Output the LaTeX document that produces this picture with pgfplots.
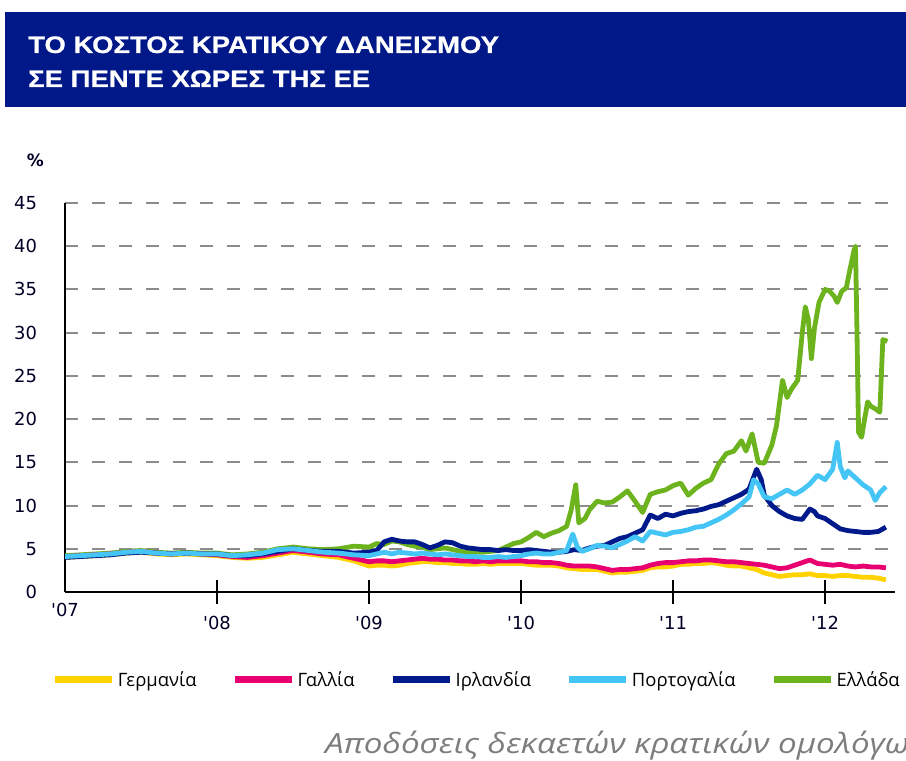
\documentclass[border=0pt]{standalone}
\usepackage{fontspec}
\usepackage{pgfplots}
\pgfplotsset{compat=1.18}
\setmainfont{DejaVu Sans}
\newfontfamily\titlefont{Liberation Sans}[FakeStretch=1.15, BoldFeatures={FakeBold=0.6}]
\newfontfamily\legfont{Open Sans}
\newfontfamily\notefont{Open Sans}[FakeStretch=1.19]
\newfontfamily\tickfont{DejaVu Sans}
\definecolor{banner}{RGB}{0,24,136}
\definecolor{cDE}{RGB}{255,210,0}
\definecolor{cFR}{RGB}{232,0,112}
\definecolor{cIE}{RGB}{0,26,140}
\definecolor{cPT}{RGB}{69,197,245}
\definecolor{cGR}{RGB}{109,179,30}
\definecolor{gridgray}{RGB}{140,140,140}
\definecolor{notegray}{RGB}{125,125,125}

\begin{document}
\begin{tikzpicture}
\useasboundingbox (0bp,0bp) rectangle (906bp,761bp);
\fill[banner] (5bp,654bp) rectangle (906bp,749bp);
\node[anchor=base west,inner sep=0pt,text=white,font=\titlefont\bfseries\fontsize{24}{28}\selectfont] at (28bp,708bp) {ΤΟ ΚΟΣΤΟΣ ΚΡΑΤΙΚΟΥ ΔΑΝΕΙΣΜΟΥ};
\node[anchor=base west,inner sep=0pt,text=white,font=\titlefont\bfseries\fontsize{24}{28}\selectfont] at (28bp,674bp) {ΣΕ ΠΕΝΤΕ ΧΩΡΕΣ ΤΗΣ ΕΕ};
\node[anchor=east,inner sep=0pt,font=\tickfont\bfseries\fontsize{17}{20}\selectfont,text=black!85!blue] at (44bp,601bp) {\%};
\node[anchor=base west,inner sep=0pt,text=notegray,font=\notefont\itshape\fontsize{28}{32}\selectfont] at (325bp,8bp) {Αποδόσεις δεκαετών κρατικών ομολόγων};

\begin{axis}[
  at={(65bp,169bp)}, anchor=south west,
  scale only axis, width=830bp, height=389bp,
  xmin=7, xmax=12.46, ymin=0, ymax=45,
  axis x line=bottom, axis y line=left,
  axis line style={-, line width=2bp, black},
  ytick={0,5,...,45},
  ymajorgrids,
  grid style={gridgray, line width=2bp, dash pattern=on 13bp off 14bp},
  ytick style={draw=none},
  xtick={8,9,10,11,12},
  xticklabels={'08,'09,'10,'11,'12},
  extra x ticks={7},
  extra x tick labels={'07},
  extra x tick style={major tick length=0pt, grid=none},
  xtick style={black, line width=2bp},
  tick align=center,
  major tick length=25bp,
  /pgf/number format/assume math mode=true,
  tick label style={font=\tickfont\fontsize{18}{20}\selectfont, text=black!85!blue},
  yticklabel style={xshift=-12bp},
  xticklabel style={yshift=-8bp},
  legend style={at={(0.496,-0.226)}, anchor=center, draw=none, fill=none,
    legend columns=-1, font=\legfont\fontsize{18.5}{22}\selectfont,
    /tikz/every even column/.append style={column sep=33bp}},
  legend image code/.code={\draw[#1, line width=7bp] (0bp,0bp) -- (57bp,0bp);},
  every axis plot/.append style={line width=4.8bp, line join=round},
]
\addlegendimage{cDE}
\addlegendimage{cFR}
\addlegendimage{cIE}
\addlegendimage{cPT}
\addlegendimage{cGR}
\legend{Γερμανία,Γαλλία,Ιρλανδία,Πορτογαλία,Ελλάδα}

% Greece
\addplot[cGR, forget plot] table {
7.0 4.2
7.1 4.3
7.2 4.4
7.3 4.5
7.4 4.7
7.5 4.8
7.6 4.6
7.7 4.5
7.8 4.6
7.9 4.5
8.0 4.5
8.1 4.3
8.2 4.4
8.3 4.6
8.4 5.0
8.5 5.2
8.6 5.0
8.7 4.9
8.8 5.0
8.9 5.3
9.0 5.2
9.05 5.6
9.1 5.5
9.15 5.9
9.2 5.8
9.25 5.5
9.3 5.3
9.35 5.2
9.4 4.9
9.45 5.0
9.5 5.1
9.55 4.9
9.6 4.7
9.65 4.6
9.7 4.6
9.75 4.6
9.8 4.7
9.85 4.8
9.9 5.2
9.95 5.6
10.0 5.8
10.05 6.3
10.1 6.9
10.15 6.4
10.2 6.8
10.25 7.1
10.3 7.6
10.33 9.5
10.36 12.4
10.38 8.0
10.42 8.5
10.45 9.5
10.5 10.5
10.55 10.3
10.6 10.4
10.65 11.0
10.7 11.7
10.75 10.5
10.8 9.2
10.85 11.3
10.9 11.6
10.95 11.8
11.0 12.3
11.05 12.6
11.1 11.2
11.15 12.0
11.2 12.6
11.25 13.0
11.3 14.8
11.35 16.0
11.4 16.3
11.45 17.5
11.48 16.3
11.52 18.3
11.56 15.0
11.6 14.9
11.65 17.0
11.68 19.2
11.72 24.5
11.75 22.5
11.78 23.5
11.82 24.5
11.85 30.0
11.87 33.0
11.89 31.5
11.91 27.0
11.93 30.5
11.96 33.5
12.0 35.0
12.03 34.8
12.06 34.2
12.08 33.5
12.11 34.8
12.14 35.2
12.16 37.0
12.19 39.5
12.2 40.0
12.21 30.0
12.22 18.5
12.24 17.9
12.26 20.0
12.28 22.0
12.3 21.5
12.33 21.2
12.36 20.8
12.37 25.0
12.38 29.2
12.41 29.0
};

% Germany
\addplot[cDE, forget plot] table {
7.0 4.0
7.1 4.1
7.2 4.2
7.3 4.3
7.4 4.5
7.5 4.6
7.6 4.4
7.7 4.3
7.8 4.4
7.9 4.3
8.0 4.2
8.1 4.0
8.2 3.9
8.3 4.0
8.4 4.3
8.5 4.6
8.6 4.4
8.7 4.2
8.8 4.0
8.9 3.6
9.0 3.0
9.05 3.1
9.1 3.1
9.15 3.0
9.2 3.1
9.25 3.3
9.3 3.4
9.35 3.5
9.4 3.5
9.45 3.4
9.5 3.4
9.55 3.3
9.6 3.3
9.65 3.2
9.7 3.2
9.75 3.3
9.8 3.2
9.85 3.3
9.9 3.3
9.95 3.3
10.0 3.3
10.05 3.2
10.1 3.1
10.15 3.1
10.2 3.1
10.25 3.0
10.3 2.8
10.35 2.7
10.4 2.6
10.45 2.6
10.5 2.6
10.55 2.4
10.6 2.2
10.65 2.3
10.7 2.3
10.75 2.4
10.8 2.5
10.85 2.8
10.9 2.9
10.95 2.9
11.0 3.0
11.05 3.2
11.1 3.2
11.15 3.3
11.2 3.3
11.25 3.4
11.3 3.3
11.35 3.1
11.4 3.0
11.45 3.0
11.5 2.8
11.55 2.6
11.6 2.2
11.65 2.0
11.7 1.8
11.75 1.9
11.8 2.0
11.85 2.0
11.9 2.1
11.95 1.9
12.0 1.9
12.05 1.8
12.1 1.9
12.15 1.9
12.2 1.8
12.25 1.7
12.3 1.7
12.35 1.6
12.4 1.4
};

% France
\addplot[cFR, forget plot] table {
7.0 4.1
7.1 4.2
7.2 4.3
7.3 4.4
7.4 4.6
7.5 4.7
7.6 4.5
7.7 4.4
7.8 4.5
7.9 4.4
8.0 4.3
8.1 4.1
8.2 4.0
8.3 4.2
8.4 4.5
8.5 4.8
8.6 4.6
8.7 4.4
8.8 4.3
8.9 3.9
9.0 3.5
9.05 3.6
9.1 3.6
9.15 3.5
9.2 3.6
9.25 3.7
9.3 3.8
9.35 3.9
9.4 3.8
9.45 3.8
9.5 3.7
9.55 3.7
9.6 3.6
9.65 3.6
9.7 3.5
9.75 3.6
9.8 3.5
9.85 3.6
9.9 3.6
9.95 3.6
10.0 3.6
10.05 3.5
10.1 3.5
10.15 3.4
10.2 3.4
10.25 3.3
10.3 3.1
10.35 3.0
10.4 3.0
10.45 3.0
10.5 2.9
10.55 2.7
10.6 2.5
10.65 2.6
10.7 2.6
10.75 2.7
10.8 2.8
10.85 3.1
10.9 3.3
10.95 3.4
11.0 3.4
11.05 3.5
11.1 3.6
11.15 3.6
11.2 3.7
11.25 3.7
11.3 3.6
11.35 3.5
11.4 3.5
11.45 3.4
11.5 3.3
11.55 3.2
11.6 3.1
11.65 2.9
11.7 2.7
11.75 2.8
11.8 3.1
11.85 3.4
11.9 3.7
11.95 3.3
12.0 3.2
12.05 3.1
12.1 3.2
12.15 3.0
12.2 2.9
12.25 3.0
12.3 2.9
12.35 2.9
12.4 2.8
};

% Ireland
\addplot[cIE, forget plot] table {
7.0 4.0
7.1 4.1
7.2 4.2
7.3 4.3
7.4 4.5
7.5 4.6
7.6 4.5
7.7 4.4
7.8 4.5
7.9 4.4
8.0 4.4
8.1 4.2
8.2 4.2
8.3 4.4
8.4 4.7
8.5 5.0
8.6 4.8
8.7 4.7
8.8 4.7
8.9 4.5
9.0 4.6
9.05 4.8
9.1 5.8
9.15 6.1
9.2 5.9
9.25 5.8
9.3 5.8
9.35 5.5
9.4 5.1
9.45 5.4
9.5 5.8
9.55 5.7
9.6 5.3
9.65 5.1
9.7 5.0
9.75 4.9
9.8 4.9
9.85 4.8
9.9 4.9
9.95 4.8
10.0 4.8
10.05 4.9
10.1 4.8
10.15 4.7
10.2 4.6
10.25 4.6
10.3 4.7
10.35 4.9
10.4 4.8
10.45 5.1
10.5 5.3
10.55 5.4
10.6 5.8
10.65 6.2
10.7 6.4
10.75 6.8
10.8 7.2
10.85 8.9
10.9 8.5
10.95 9.0
11.0 8.8
11.05 9.1
11.1 9.3
11.15 9.4
11.2 9.6
11.25 9.9
11.3 10.1
11.35 10.5
11.4 10.9
11.45 11.3
11.5 11.9
11.55 14.2
11.58 13.0
11.6 11.2
11.65 10.0
11.7 9.3
11.75 8.8
11.8 8.5
11.85 8.4
11.9 9.6
11.93 9.3
11.95 8.8
12.0 8.5
12.05 7.9
12.1 7.3
12.15 7.1
12.2 7.0
12.25 6.9
12.3 6.9
12.35 7.0
12.4 7.5
};

% Portugal
\addplot[cPT, forget plot] table {
7.0 4.1
7.1 4.2
7.2 4.3
7.3 4.4
7.4 4.6
7.5 4.7
7.6 4.5
7.7 4.4
7.8 4.5
7.9 4.4
8.0 4.4
8.1 4.2
8.2 4.3
8.3 4.5
8.4 4.9
8.5 5.0
8.6 4.8
8.7 4.6
8.8 4.5
8.9 4.3
9.0 4.2
9.05 4.4
9.1 4.6
9.15 4.4
9.2 4.6
9.25 4.5
9.3 4.4
9.35 4.5
9.4 4.4
9.45 4.3
9.5 4.4
9.55 4.3
9.6 4.2
9.65 4.1
9.7 4.1
9.75 4.0
9.8 4.0
9.85 4.1
9.9 4.0
9.95 4.1
10.0 4.2
10.05 4.4
10.1 4.5
10.15 4.4
10.2 4.4
10.25 4.6
10.3 4.8
10.34 6.7
10.37 5.2
10.4 4.7
10.45 5.0
10.5 5.4
10.55 5.3
10.6 5.1
10.65 5.5
10.7 5.9
10.75 6.4
10.8 5.9
10.85 7.0
10.9 6.8
10.95 6.6
11.0 6.9
11.05 7.0
11.1 7.2
11.15 7.5
11.2 7.6
11.25 8.0
11.3 8.4
11.35 8.9
11.4 9.5
11.45 10.2
11.5 11.0
11.53 13.0
11.56 12.5
11.6 11.0
11.65 10.8
11.7 11.3
11.75 11.8
11.8 11.3
11.85 11.8
11.9 12.5
11.95 13.5
12.0 13.0
12.05 14.2
12.08 17.3
12.1 14.5
12.13 13.2
12.15 14.0
12.2 13.2
12.25 12.4
12.3 11.8
12.33 10.6
12.36 11.5
12.4 12.2
};
\end{axis}
\end{tikzpicture}
\end{document}
